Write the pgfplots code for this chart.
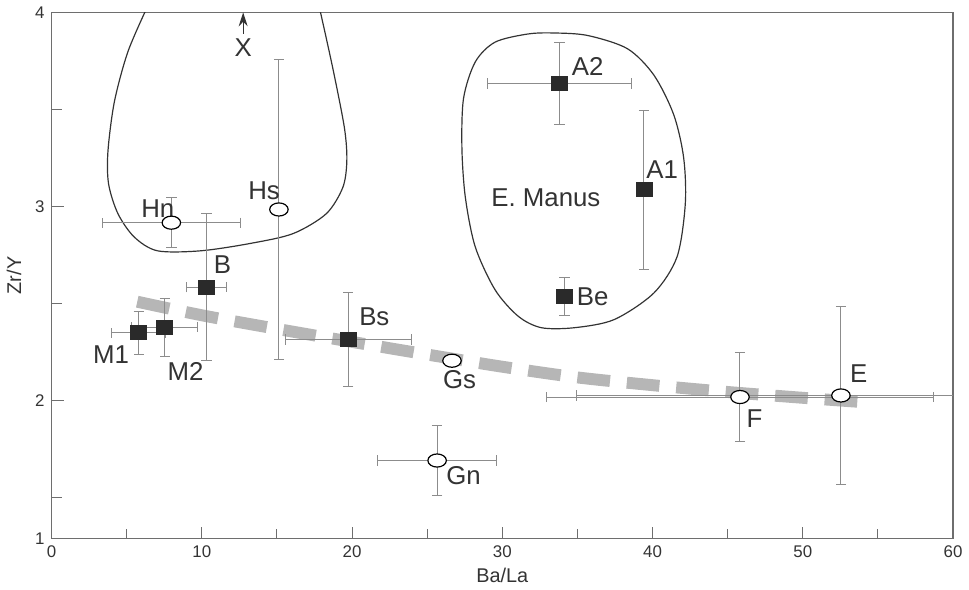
\documentclass[border=0pt]{standalone}
\usepackage{pgfplots}
\pgfplotsset{compat=1.18}
\usetikzlibrary{arrows.meta}
\usepackage{fontspec}
\setmainfont{Liberation Sans}
\definecolor{txt}{HTML}{333333}
\definecolor{axgray}{HTML}{6E6E6E}
\definecolor{errgray}{HTML}{8C8C8C}
\definecolor{trend}{HTML}{B6B6B6}
\definecolor{sq}{HTML}{2A2A2A}
\begin{document}
\begin{tikzpicture}
\begin{axis}[
  name=ax,
  width=454pt, height=265pt, scale only axis,
  xmin=0, xmax=60, ymin=1.29, ymax=4,
  xtick={0,10,...,60}, minor xtick={5,15,...,55},
  ytick={1.29,2,3,4}, yticklabels={1,2,3,4}, minor ytick={1.5,2.5,3.5},
  tick pos=left, tick align=inside,
  major tick length=6pt, minor tick length=5pt,
  axis line style={draw=axgray, line width=0.6pt},
  every tick/.style={draw=axgray, line width=0.5pt},
  /pgf/number format/assume math mode=true,
  tick label style={font=\fontsize{8.5}{9}\selectfont, text=txt},
  xlabel={Ba/La}, ylabel={Zr/Y},
  label style={font=\fontsize{10}{12}\selectfont, text=txt},
  xlabel style={at={(axis description cs:0.5,0)}, anchor=center, yshift=-18.5pt},
  ylabel style={at={(axis description cs:0,0.5)}, anchor=center, yshift=19pt},
  clip=true,
]
% trend (dashed thick gray)
\addplot[trend, line width=6pt, dash pattern=on 16.5pt off 8.5pt, smooth] coordinates {
 (5.7,2.51) (10,2.44) (15,2.37) (20,2.303) (25,2.238) (30,2.175) (35,2.12) (40,2.08) (45,2.045) (50,2.015) (54.5,1.99)};
% H field outline
\addplot[txt, line width=0.6pt, smooth] coordinates {
 (6.32,4.02) (5.07,3.796) (4.18,3.541) (3.75,3.286) (3.79,3.117) (4.41,2.964) (5.50,2.843) (7.05,2.772) (9.91,2.772) (13.22,2.810) (16.08,2.861) (18.28,2.963) (19.38,3.098) (19.65,3.235) (19.49,3.405) (18.72,3.711) (17.84,4.02)};
% E. Manus outline
\addplot[txt, line width=0.6pt, smooth cycle] coordinates {
 (31.72,3.889) (29.52,3.847) (28.20,3.745) (27.42,3.558) (27.31,3.303) (27.54,3.047) (28.20,2.792) (29.52,2.571) (31.06,2.435) (32.60,2.376) (34.80,2.376) (37.45,2.418) (40.09,2.555) (41.63,2.741) (42.18,3.014) (42.07,3.252) (41.41,3.473) (40.09,3.677) (38.33,3.813) (35.69,3.881) (33.48,3.894)};
% filled squares with error bars
\addplot[only marks, mark=square*, mark size=4pt, mark options={yscale=0.88, fill=sq, draw=sq},
  error bars/.cd, x dir=both, x explicit, y dir=both, y explicit,
  error bar style={errgray, line width=0.5pt},
  error mark options={rotate=90, errgray, mark size=2.6pt, line width=0.5pt}]
 table[x=x, y=y, x error=ex, y error=ey] {
 x     y     ex    ey
 5.8   2.35  1.8   0.11
 7.53  2.378 2.2   0.15
 10.31 2.585 1.3   0.38
 19.74 2.315 4.2   0.24
 33.81 3.634 4.8   0.21
 39.43 3.087 0     0.41
 34.14 2.537 0     0.10
 };
% open ellipses with error bars
\addplot[only marks, mark=*, mark size=3.3pt, mark options={xscale=1.41, fill=white, draw=black, line width=0.6pt},
  error bars/.cd, x dir=both, x explicit, y dir=both, y explicit,
  error bar style={errgray, line width=0.5pt},
  error mark options={rotate=90, errgray, mark size=2.6pt, line width=0.5pt}]
 table[x=x, y=y, x error=ex, y error=ey] {
 x     y     ex    ey
 7.97  2.917 4.57  0.13
 15.13 2.985 0     0.775
 26.65 2.206 0     0
 25.66 1.692 3.95  0.18
 45.82 2.019 12.9  0.23
 52.54 2.027 17.6  0.46
 };
% labels
\begin{scope}[every node/.style={font=\fontsize{13}{15}\selectfont, text=txt, inner sep=0pt}]
\node at (axis cs:12.75,3.82) {X};
\node at (axis cs:7.07,2.99) {Hn};
\node at (axis cs:14.14,3.08) {Hs};
\node at (axis cs:11.37,2.70) {B};
\node at (axis cs:3.96,2.235) {M1};
\node at (axis cs:8.92,2.153) {M2};
\node at (axis cs:21.48,2.43) {Bs};
\node at (axis cs:27.16,2.107) {Gs};
\node at (axis cs:27.42,1.612) {Gn};
\node at (axis cs:35.68,3.72) {A2};
\node at (axis cs:40.64,3.19) {A1};
\node at (axis cs:32.9,3.046) {E. Manus};
\node at (axis cs:36.01,2.536) {Be};
\node at (axis cs:53.72,2.138) {E};
\node at (axis cs:46.79,1.908) {F};
\end{scope}
\draw[txt, line width=0.6pt, -{Stealth[length=7pt,width=4.5pt]}] (axis cs:12.75,3.89) -- (axis cs:12.75,4.0);
\end{axis}
\path (ax.south west) ++(-25pt,-25.5pt);
\path (ax.north east) ++(5.5pt,5.5pt);
\end{tikzpicture}
\end{document}
